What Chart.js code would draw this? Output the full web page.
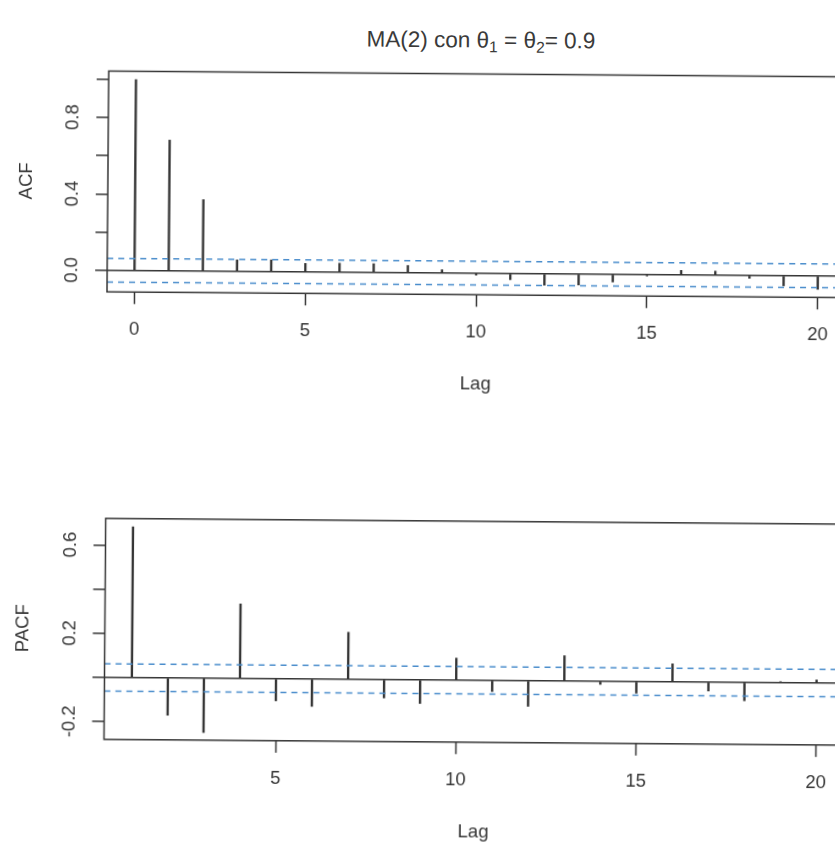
<!DOCTYPE html>
<html lang="es">
<head>
<meta charset="utf-8">
<title>ACF y PACF - MA(2)</title>
<script src="https://cdn.jsdelivr.net/npm/chart.js@4.4.1/dist/chart.umd.min.js"></script>
<style>
  html, body { margin: 0; padding: 0; background: #fff; overflow: hidden; width: 835px; height: 842px; }
  /* el escaneo original está un poco girado */
  #hoja { position: absolute; left: 0; top: 0; width: 835px; height: 842px; transform: rotate(0.45deg); transform-origin: 417px 421px; }
  #titulo { position: absolute; left: 0; width: 956px; top: 28px; text-align: center; white-space: nowrap;
            font-family: "Liberation Sans", Arial, sans-serif; font-size: 22.5px; line-height: 24px; color: #3a3a3a; }
  #titulo sub { font-size: 0.7em; vertical-align: -0.3em; line-height: 0; }
  canvas { position: absolute; left: 0; }
  #grafico-acf { top: 0; }
  #grafico-pacf { top: 420px; }
</style>
</head>
<body>
<div id="hoja">
  <div id="titulo">MA(2) con θ<sub>1</sub> = θ<sub>2</sub>= 0.9</div>
  <canvas id="grafico-acf" width="870" height="420"></canvas>
  <canvas id="grafico-pacf" width="870" height="440"></canvas>
</div>
<script>
// --- DATOS (leídos a ojo del gráfico) ---
const LAGS_ACF = [0, 1, 2, 3, 4, 5, 6, 7, 8, 9, 10, 11, 12, 13, 14, 15, 16, 17, 18, 19, 20];
const VALORES_ACF = [1.0, 0.684, 0.374, 0.06, 0.061, 0.044, 0.047, 0.045, 0.037, 0.017, -0.01,
                     -0.033, -0.06, -0.058, -0.04, -0.007, 0.023, 0.02, -0.016, -0.054, -0.07];

const LAGS_PACF = [1, 2, 3, 4, 5, 6, 7, 8, 9, 10, 11, 12, 13, 14, 15, 16, 17, 18, 19, 20];
const VALORES_PACF = [0.683, -0.168, -0.246, 0.337, -0.1, -0.123, 0.213, -0.083, -0.106, 0.1,
                      -0.05, -0.115, 0.115, -0.014, -0.052, 0.082, -0.04, -0.083, 0.005, 0.014];

const LIMITE_CONF = 0.062;   // bandas azules ±2/sqrt(n)

const RANGO_X_ACF = [-0.8, 20.8];
const RANGO_Y_ACF = [-0.113, 1.043];
const RANGO_X_PACF = [0.24, 20.76];
const RANGO_Y_PACF = [-0.28, 0.72];

const TICKS_X_ACF = [0, 5, 10, 15, 20];
const TICKS_X_PACF = [5, 10, 15, 20];
const TICKS_Y_ACF = [0, 0.2, 0.4, 0.6, 0.8, 1.0];
const TICKS_Y_PACF = [-0.2, 0, 0.2, 0.4, 0.6];
const ETIQUETAS_Y_ACF = [0, 0.4, 0.8];
const ETIQUETAS_Y_PACF = [-0.2, 0.2, 0.6];

// --- ESTILO ---
const COLOR_TINTA = '#353535';
const COLOR_AZUL = '#4a8dcc';
const FUENTE = '"Liberation Sans", Arial, sans-serif';
const TAM_TEXTO = 18.5;

// caja alrededor del panel + etiquetas del eje Y en vertical (como R)
const marcoR = {
  id: 'marcoR',
  afterDraw(chart, args, opts) {
    const { ctx, chartArea: a } = chart;
    const escalaY = chart.scales.y;
    ctx.save();
    ctx.strokeStyle = COLOR_TINTA;
    ctx.lineWidth = 1.5;
    ctx.strokeRect(a.left, a.top, a.right - a.left, a.bottom - a.top);

    ctx.fillStyle = COLOR_TINTA;
    ctx.font = TAM_TEXTO + 'px ' + FUENTE;
    ctx.textAlign = 'center';
    ctx.textBaseline = 'middle';
    opts.valores.forEach(v => {
      ctx.save();
      ctx.translate(a.left - 35, escalaY.getPixelForValue(v));
      ctx.rotate(-Math.PI / 2);
      ctx.fillText(v.toFixed(1), 0, 0);
      ctx.restore();
    });
    ctx.restore();
  }
};

function lineaLimite(rangoX, y) {
  return {
    type: 'line',
    data: [{ x: rangoX[0], y: y }, { x: rangoX[1], y: y }],
    borderColor: COLOR_AZUL,
    borderDash: [6, 5],
    borderWidth: 1.5,
    pointRadius: 0,
    fill: false,
    order: 1
  };
}

function crearPanel(idCanvas, p) {
  const ctx = document.getElementById(idCanvas).getContext('2d');
  return new Chart(ctx, {
    type: 'bar',
    data: {
      datasets: [
        {
          type: 'bar',
          data: p.lags.map((l, i) => ({ x: l, y: p.valores[i] })),
          backgroundColor: COLOR_TINTA,
          barThickness: 1.7,
          order: 2
        },
        lineaLimite(p.rangoX, LIMITE_CONF),
        lineaLimite(p.rangoX, -LIMITE_CONF)
      ]
    },
    options: {
      responsive: false,
      animation: false,
      events: [],
      layout: { padding: p.margen },
      plugins: {
        legend: { display: false },
        tooltip: { enabled: false },
        marcoR: { valores: p.etiquetasY }
      },
      scales: {
        x: {
          type: 'linear',
          min: p.rangoX[0],
          max: p.rangoX[1],
          offset: false,
          afterBuildTicks: s => { s.ticks = p.ticksX.map(v => ({ value: v })); },
          afterFit: s => { s.height = p.altoX; },
          border: { display: false },
          grid: { offset: false, drawOnChartArea: false, tickLength: 12, tickColor: COLOR_TINTA, tickWidth: 1.5 },
          ticks: { font: { family: FUENTE, size: TAM_TEXTO }, color: COLOR_TINTA, padding: p.padTicksX, maxRotation: 0 },
          title: { display: true, text: 'Lag', font: { family: FUENTE, size: TAM_TEXTO }, color: COLOR_TINTA,
                   padding: { top: 0, bottom: p.padTituloX } }
        },
        y: {
          min: p.rangoY[0],
          max: p.rangoY[1],
          afterBuildTicks: s => { s.ticks = p.ticksY.map(v => ({ value: v })); },
          afterFit: s => { s.width = p.anchoY; },
          border: { display: false },
          grid: {
            color: c => (c.tick && c.tick.value === 0) ? COLOR_TINTA : 'rgba(0,0,0,0)',
            lineWidth: 1.5,
            tickLength: 12,
            tickColor: COLOR_TINTA,
            tickWidth: 1.5
          },
          ticks: { display: false },
          title: { display: true, text: p.tituloY, font: { family: FUENTE, size: TAM_TEXTO }, color: COLOR_TINTA,
                   padding: { top: 14, bottom: 0 } }
        }
      }
    },
    plugins: [marcoR]
  });
}

crearPanel('grafico-acf', {
  lags: LAGS_ACF, valores: VALORES_ACF,
  rangoX: RANGO_X_ACF, rangoY: RANGO_Y_ACF,
  ticksX: TICKS_X_ACF, ticksY: TICKS_Y_ACF, etiquetasY: ETIQUETAS_Y_ACF,
  tituloY: 'ACF',
  margen: { left: 0, top: 73.5, right: 26, bottom: 0 },
  anchoY: 106, altoX: 125.7, padTicksX: 15, padTituloX: 25.2
});

crearPanel('grafico-pacf', {
  lags: LAGS_PACF, valores: VALORES_PACF,
  rangoX: RANGO_X_PACF, rangoY: RANGO_Y_PACF,
  ticksX: TICKS_X_PACF, ticksY: TICKS_Y_PACF, etiquetasY: ETIQUETAS_Y_PACF,
  tituloY: 'PACF',
  margen: { left: 0, top: 100.8, right: 24, bottom: 0 },
  anchoY: 106.5, altoX: 118.2, padTicksX: 15.4, padTituloX: 17.2
});
</script>
</body>
</html>
